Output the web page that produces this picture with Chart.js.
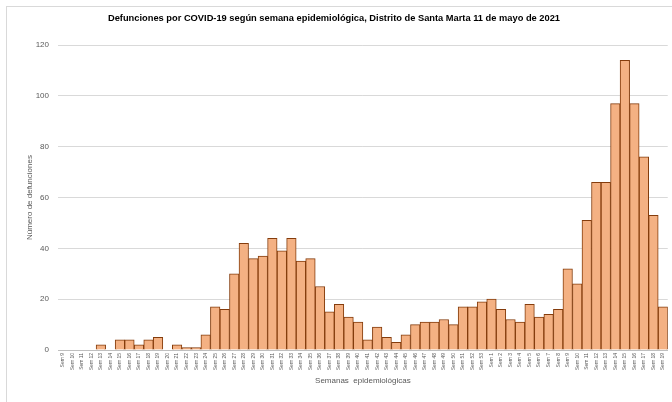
<!DOCTYPE html>
<html>
<head>
<meta charset="utf-8">
<script src="https://cdn.jsdelivr.net/npm/chart.js@4/dist/chart.umd.min.js"></script>
<style>
  html, body { margin: 0; padding: 0; background: #ffffff; }
  #wrap { position: relative; width: 672px; height: 402px; overflow: hidden; }
  #frame { position: absolute; left: 6px; top: 6px; width: 700px; height: 420px;
           border-top: 1px solid #d9d9d9; border-left: 1px solid #d9d9d9; pointer-events: none; }
  canvas { position: absolute; left: 0; top: 0; }
</style>
</head>
<body>
<div id="wrap">
  <div id="frame"></div>
  <canvas id="c" width="672" height="402"></canvas>
</div>
<script>
const chartTitle = "Defunciones por COVID-19 según semana epidemiológica, Distrito de Santa Marta 11 de mayo de 2021";
const xAxisTitle = "Semanas  epidemiológicas";
const yAxisTitle = "Número de defunciones";

const weekLabels2020 = ["Sem 9","Sem 10","Sem 11","Sem 12","Sem 13","Sem 14","Sem 15","Sem 16","Sem 17","Sem 18",
  "Sem 19","Sem 20","Sem 21","Sem 22","Sem 23","Sem 24","Sem 25","Sem 26","Sem 27","Sem 28",
  "Sem 29","Sem 30","Sem 31","Sem 32","Sem 33","Sem 34","Sem 35","Sem 36","Sem 37","Sem 38",
  "Sem 39","Sem 40","Sem 41","Sem 42","Sem 43","Sem 44","Sem 45","Sem 46","Sem 47","Sem 48",
  "Sem 49","Sem 50","Sem 51","Sem 52","Sem 53"];
const weekLabels2021 = ["Sem 1","Sem 2","Sem 3","Sem 4","Sem 5","Sem 6","Sem 7","Sem 8","Sem 9","Sem 10",
  "Sem 11","Sem 12","Sem 13","Sem 14","Sem 15","Sem 16","Sem 17","Sem 18","Sem 19"];

const deaths2020 = [0,0,0,0,2,0,4,4,2,4,5,0,2,1,1,6,17,16,30,42,36,37,44,39,44,35,36,25,15,18,13,11,4,9,5,3,6,10,11,11,12,10,17,17,19];
const deaths2021 = [20,16,12,11,18,13,14,16,32,26,51,66,66,97,114,97,76,53,17];

const yTicks = [0,20,40,60,80,100,120];

const labels = weekLabels2020.concat(weekLabels2021);
const values = deaths2020.concat(deaths2021);

const FONT = "'Liberation Sans Narrow', 'Liberation Sans', Arial, sans-serif";

new Chart(document.getElementById('c'), {
  type: 'bar',
  data: {
    labels: labels,
    datasets: [{
      data: values,
      backgroundColor: '#F4B183',
      borderColor: '#843C0C',
      borderWidth: 1,
      borderSkipped: 'start',
      categoryPercentage: 1.0,
      barPercentage: 1.0
    }]
  },
  options: {
    responsive: false,
    animation: false,
    devicePixelRatio: 1,
    layout: { padding: { left: 0, right: 4, top: 0, bottom: 0 } },
    plugins: {
      legend: { display: false },
      tooltip: { enabled: false },
      title: {
        display: true,
        text: chartTitle,
        color: '#000000',
        font: { family: FONT, size: 9.3, weight: 'bold' },
        padding: { top: 13, bottom: 21 }
      }
    },
    scales: {
      x: {
        grid: { display: false, drawTicks: false },
        border: { display: true, color: '#bfbfbf', width: 1 },
        ticks: {
          autoSkip: false,
          maxRotation: 90,
          minRotation: 90,
          color: '#595959',
          font: { family: FONT, size: 5 },
          padding: 3
        },
        title: {
          display: true,
          text: xAxisTitle,
          color: '#595959',
          font: { family: FONT, size: 8 },
          padding: { top: 0, bottom: 16 }
        },
        afterFit: function(scale) { scale.height = 52; }
      },
      y: {
        min: 0,
        max: 120,
        afterBuildTicks: function(scale) { scale.ticks = yTicks.map(v => ({ value: v })); },
        grid: { color: '#d9d9d9', lineWidth: 1, drawTicks: false },
        border: { display: false },
        ticks: {
          color: '#595959',
          font: { family: FONT, size: 8 },
          padding: 9
        },
        title: {
          display: true,
          text: yAxisTitle,
          color: '#595959',
          font: { family: FONT, size: 8 },
          padding: { top: 25, bottom: 0 }
        },
        afterFit: function(scale) { scale.width = 58; }
      }
    }
  }
});
</script>
</body>
</html>
